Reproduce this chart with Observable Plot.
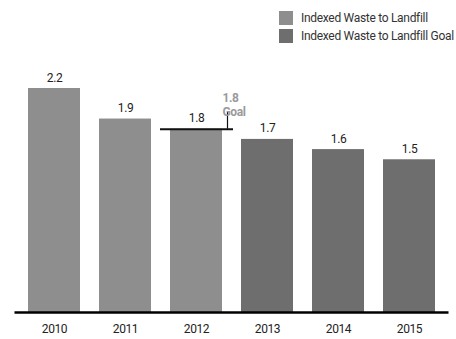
<!DOCTYPE html>
<html>
<head>
<meta charset="utf-8">
<script src="https://cdn.jsdelivr.net/npm/d3@7"></script>
<script src="https://cdn.jsdelivr.net/npm/@observablehq/plot@0.6"></script>
<style>
  body { margin: 0; background: #fff; }
  #wrap { position: relative; width: 456px; height: 339px; font-family: Roboto, sans-serif; }
  #legend { position: absolute; left: 279px; top: 9px; font-size: 12px; letter-spacing: -0.3px; color: #333; white-space: nowrap; }
  .item { display: flex; align-items: center; height: 18px; }
  .sw { width: 14px; height: 14px; margin-right: 8px; flex: none; }
</style>
</head>
<body>
<div id="wrap"><div id="legend"></div></div>
<script>
const years = ["2010", "2011", "2012", "2013", "2014", "2015"];
const values = [2.2, 1.9, 1.8, 1.7, 1.6, 1.5];
const seriesNames = ["Indexed Waste to Landfill", "Indexed Waste to Landfill Goal"];
const seriesOf = [0, 0, 0, 1, 1, 1];
const colors = ["#8e8e8e", "#6e6e6e"];
const goalYear = "2012";
const goalValue = 1.8;
const goalLabel = "1.8\nGoal";

const data = years.map((y, i) => ({year: y, value: values[i], series: seriesNames[seriesOf[i]]}));

const legend = document.getElementById("legend");
seriesNames.forEach((s, i) => {
  const d = document.createElement("div");
  d.className = "item";
  d.innerHTML = `<div class="sw" style="background:${colors[i]}"></div><span>${s}</span>`;
  legend.appendChild(d);
});

const chart = Plot.plot({
  width: 456,
  height: 339,
  marginTop: 88,
  marginBottom: 27,
  marginLeft: 17.5,
  marginRight: 10.5,
  style: {fontFamily: 'Roboto, sans-serif', fontSize: "12px", letterSpacing: "-0.4px", color: "#222", background: "transparent"},
  x: {domain: years, paddingInner: 0.27, paddingOuter: 0.135, label: null, tickSize: 0, tickPadding: 12},
  y: {domain: [0, 2.2], axis: null},
  color: {domain: seriesNames, range: colors},
  marks: [
    Plot.barY(data, {x: "year", y: "value", fill: "series"}),
    Plot.text(data, {x: "year", y: "value", text: d => d.value.toFixed(1), lineAnchor: "bottom", dy: -7, fill: "#222", fontSize: 12}),
    Plot.tickY([goalValue], {x: () => goalYear, y: d => d, stroke: "#111", strokeWidth: 2, insetLeft: -10, insetRight: -11}),
    Plot.ruleX([goalValue], {x: () => goalYear, y1: d => d, y2: d => d + 0.165, dx: 31, stroke: "#111", strokeWidth: 1.2}),
    Plot.text([goalValue], {x: () => goalYear, y: d => d, text: () => goalLabel, textAnchor: "start", lineAnchor: "bottom", dx: 26, dy: -13, fill: "#9a9a9a", fontWeight: "bold", fontSize: 12, lineHeight: 1.15}),
    Plot.ruleY([0], {stroke: "#000", strokeWidth: 2.5, insetLeft: -3, insetRight: -3})
  ]
});
document.getElementById("wrap").appendChild(chart);
</script>
</body>
</html>
